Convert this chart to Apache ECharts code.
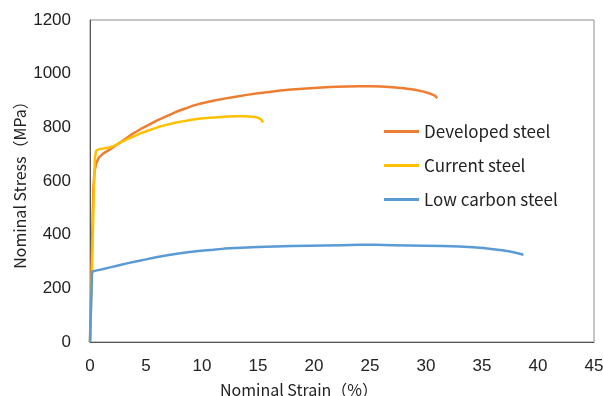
<!DOCTYPE html>
<html>
<head>
<meta charset="utf-8">
<script src="https://cdn.jsdelivr.net/npm/echarts@6/dist/echarts.min.js"></script>
<style>html,body{margin:0;padding:0;background:#fff}#c{width:603px;height:396px}</style>
</head>
<body>
<div id="c"></div>
<script>
const seriesNames = ['Developed steel', 'Current steel', 'Low carbon steel'];
const developedSteel = [[0,0],[0.15,300],[0.3,570],[0.4,635],[0.55,665],[0.8,688],[1.2,703],[1.8,718],[2.5,738],[3.2,758],[3.8,776],[4.5,793],[5.2,808],[6,826],[6.9,843],[7.7,858],[8.5,870],[9.2,881],[10,890],[11,899],[12,907],[13,914],[14,921],[15,927],[16,932],[17,937],[18,941],[19,944],[20,947],[21,949],[22,951],[23,952],[24,953],[25,953],[26,952],[27,949],[28,946],[29,940],[29.8,933],[30.4,925],[30.8,918],[31,909]];
const currentSteel = [[0,0],[0.2,300],[0.35,580],[0.45,690],[0.55,713],[0.8,718],[1.2,721],[1.7,725],[2.1,730],[2.6,741],[3.2,753],[3.9,766],[4.6,779],[5.4,791],[6.1,801],[6.9,810],[7.7,818],[8.5,824],[9.2,829],[9.9,833],[10.7,836],[11.5,838],[12.3,840],[13,841],[13.7,841],[14.3,840],[14.8,838],[15.1,834],[15.3,828],[15.45,818]];
const lowCarbonSteel = [[0,0],[0.18,262],[0.5,266],[1,270],[1.8,278],[2.6,286],[3.4,294],[4.2,301],[5,308],[5.9,316],[6.9,323],[7.9,330],[8.9,335],[9.9,340],[11,344],[12,348],[13,350],[14,352],[15,354],[16.5,356],[18,358],[19.5,359],[21,360],[22.5,361],[24,362],[25.5,362],[27,361],[28.5,360],[30,359],[31.5,358],[33,356],[34.2,353],[35.1,350],[36,346],[36.8,342],[37.5,337],[38.2,331],[38.7,325]];
const xTicks = {min: 0, max: 45, interval: 5};
const yTicks = {min: 0, max: 1200, interval: 200};
const colors = ['#ED7D31', '#FFC000', '#5B9BD5'];

const chart = echarts.init(document.getElementById('c'));
const dataSets = [developedSteel, currentSteel, lowCarbonSteel];
const numFont = 'Liberation Sans';
chart.setOption({
  animation: false,
  grid: {left: 90, right: 9, top: 20, bottom: 54, show: true, borderColor: '#8c8c8c', borderWidth: 1,
    containLabel: false, outerBoundsMode: 'none'},
  legend: {
    orient: 'vertical', left: 384, top: 123, padding: 0, itemWidth: 35, itemHeight: 3, itemGap: 17,
    icon: 'rect',
    textStyle: {fontFamily: 'Noto Sans CJK JP', fontSize: 17, lineHeight: 16, color: '#222'},
    data: seriesNames
  },
  xAxis: {
    type: 'value', min: xTicks.min, max: xTicks.max, interval: xTicks.interval,
    name: 'Nominal Strain（%）', nameLocation: 'middle', nameGap: 40, nameMoveOverlap: false,
    nameTextStyle: {fontFamily: 'Noto Sans CJK JP', fontSize: 16, color: '#222', padding: [0, 86, 0, 0]},
    axisLine: {show: true, lineStyle: {color: '#555', width: 1}},
    axisTick: {show: false}, splitLine: {show: false},
    axisLabel: {fontFamily: numFont, fontSize: 17, color: '#222', margin: 16, formatter: v => String(v)}
  },
  yAxis: {
    type: 'value', min: yTicks.min, max: yTicks.max, interval: yTicks.interval,
    name: 'Nominal Stress（MPa）', nameLocation: 'middle', nameGap: 62, nameMoveOverlap: false,
    nameTextStyle: {fontFamily: 'Noto Sans CJK JP', fontSize: 16, color: '#222'},
    axisLine: {show: true, lineStyle: {color: '#555', width: 1}},
    axisTick: {show: false}, splitLine: {show: false},
    axisLabel: {fontFamily: numFont, fontSize: 17, color: '#222', margin: 19, formatter: v => String(v)}
  },
  series: seriesNames.map((n, i) => ({
    name: n, type: 'line', data: dataSets[i], symbol: 'none', smooth: false,
    lineStyle: {color: colors[i], width: 2.5}, itemStyle: {color: colors[i]}
  }))
});
</script>
</body>
</html>
